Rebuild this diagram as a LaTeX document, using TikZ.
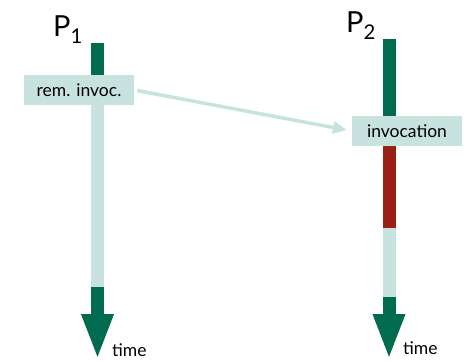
\documentclass[tikz,border=0pt]{standalone}
\usepackage{fontspec}
\setmainfont{Lato}
\usetikzlibrary{arrows.meta,positioning}
\definecolor{tlgreen}{HTML}{006B4F}
\definecolor{tllight}{HTML}{C8E3DF}
\definecolor{tlred}{HTML}{9A1F14}
\tikzset{
  timebar/.style={line width=13pt, draw=tlgreen},
  idlebar/.style={timebar, draw=tllight},
  busybar/.style={timebar, draw=tlred},
  timearrow/.style={timebar, -{Triangle[width=29pt,length=46pt]}},
  callbox/.style={fill=tllight, minimum width=110pt, minimum height=30pt,
    inner sep=0pt, font=\fontsize{17.5}{20}\selectfont},
  proclabel/.style={font=\fontsize{29}{33}\selectfont, inner sep=0pt, anchor=base west},
  timelabel/.style={font=\fontsize{17.5}{20}\selectfont, inner sep=0pt, anchor=base west},
  msgarrow/.style={-{Triangle[width=12pt,length=14pt]}, line width=3.5pt, draw=tllight}
}

\begin{document}
\begin{tikzpicture}[x=1pt,y=-1pt]
    \useasboundingbox (0,0) rectangle (468,361);

    % process P1
    \coordinate (p1top) at (97.5,43);
    \coordinate (p1call) at (97.5,90);
    \coordinate (p1idle) at (97.5,287);
    \coordinate (p1end) at (97.5,360);
    \draw[timebar] (p1top) -- (p1call);
    \draw[idlebar] (p1call) -- (p1idle);
    \draw[timearrow] (p1idle) -- (p1end);

    % process P2
    \coordinate (p2top) at (389,39);
    \coordinate (p2call) at (389,131);
    \coordinate (p2busy) at (389,228);
    \coordinate (p2idle) at (389,297);
    \coordinate (p2end) at (389,360);
    \draw[timebar] (p2top) -- (p2call);
    \draw[busybar] (p2call) -- (p2busy);
    \draw[idlebar] (p2busy) -- (p2idle);
    \draw[timearrow] (p2idle) -- (p2end);

    \node[callbox] (remcall) at (79,90) {rem. invoc.};
    \node[callbox] (invoke) at (407,131) {invocation};

    \node[proclabel] (p1name) at (53,37) {P\textsubscript{1}};
    \node[proclabel] (p2name) at (346,33) {P\textsubscript{2}};
    \node[timelabel] (p1time) at (112,356) {time};
    \node[timelabel] (p2time) at (403,354) {time};

    \draw[msgarrow, shorten <=3pt, shorten >=5pt] (remcall.east) -- (invoke.west);
\end{tikzpicture}
\end{document}
